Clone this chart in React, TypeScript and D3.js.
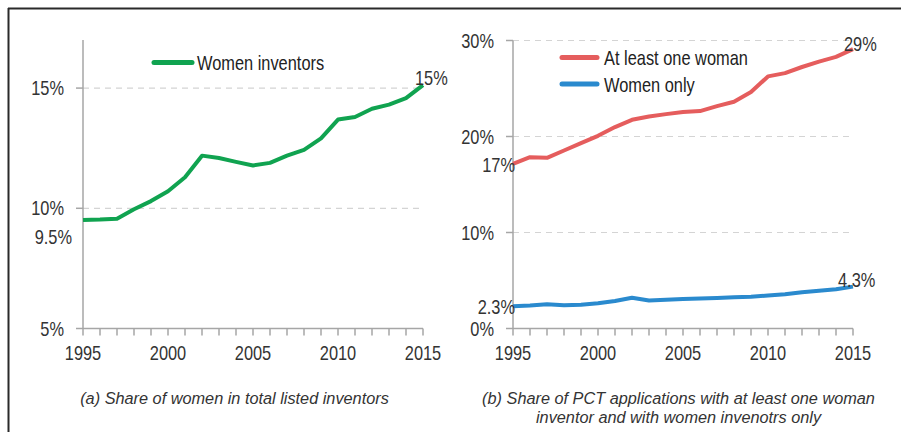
import React from "react";
import * as d3 from "d3";

const years = d3.range(1995, 2016);
const womenInventors = [9.51, 9.53, 9.57, 9.96, 10.3, 10.71, 11.29, 12.19, 12.09, 11.93, 11.78, 11.89, 12.19, 12.43, 12.91, 13.69, 13.8, 14.14, 14.31, 14.58, 15.12];
const atLeastOne = [17.15, 17.85, 17.78, 18.54, 19.31, 20.07, 20.98, 21.74, 22.09, 22.33, 22.55, 22.65, 23.17, 23.62, 24.63, 26.26, 26.6, 27.24, 27.8, 28.29, 29.1];
const womenOnly = [2.33, 2.4, 2.52, 2.42, 2.47, 2.62, 2.86, 3.2, 2.92, 2.99, 3.08, 3.13, 3.18, 3.26, 3.3, 3.43, 3.57, 3.78, 3.92, 4.08, 4.36];
const leftTicks = [5, 10, 15];
const rightTicks = [0, 10, 20, 30];
const xTickLabels = [1995, 2000, 2005, 2010, 2015];

const SANS = "'Liberation Sans', Arial, sans-serif";
const GREEN = "#10a350";
const RED = "#e55d5d";
const BLUE = "#2a8ace";
const AXIS = "#a6a6a6";
const GRID = "#d4d4d4";
const TXT = "#333333";

function NText({ x, y, anchor = "start", fill = TXT, children }: { x: number; y: number; anchor?: string; fill?: string; children: React.ReactNode }) {
  return (
    <text transform={`translate(${x},${y}) scale(0.82,1)`} x={0} y={0} textAnchor={anchor as any} fontFamily={SANS} fontSize={20} fill={fill}>
      {children}
    </text>
  );
}

type PanelProps = {
  x0: number;
  domain: [number, number];
  yTop: number;
  gridTicks: number[];
  labelTicks: number[];
  series: { values: number[]; color: string }[];
};

function Panel({ x0, domain, yTop, gridTicks, labelTicks, series }: PanelProps) {
  const x = d3.scaleLinear().domain([1995, 2015]).range([x0, x0 + 340]);
  const y = d3.scaleLinear().domain(domain).range([328.5, yTop]);
  const line = d3
    .line<number>()
    .x((_, i) => x(years[i]))
    .y((d) => y(d));
  return (
    <g>
      {gridTicks.map((t) => (
        <line key={"g" + t} x1={x0} x2={x(2015)} y1={y(t)} y2={y(t)} stroke={GRID} strokeWidth={1.2} strokeDasharray="6,5" />
      ))}
      <line x1={x0} x2={x0} y1={y(domain[1])} y2={y(domain[0])} stroke={AXIS} strokeWidth={1.5} />
      <line x1={x0} x2={x(2015)} y1={y(domain[0])} y2={y(domain[0])} stroke={AXIS} strokeWidth={1.5} />
      {labelTicks.map((t) => (
        <g key={"t" + t}>
          <line x1={x0 - 7} x2={x0} y1={y(t)} y2={y(t)} stroke={AXIS} strokeWidth={1.5} />
          <NText x={x0 - 19} y={y(t) + 7} anchor="end">
            {t}%
          </NText>
        </g>
      ))}
      {years.map((yr) => (
        <line key={"x" + yr} x1={x(yr)} x2={x(yr)} y1={y(domain[0])} y2={y(domain[0]) + 7} stroke={AXIS} strokeWidth={1.5} />
      ))}
      {xTickLabels.map((yr) => (
        <NText key={"xl" + yr} x={x(yr)} y={360} anchor="middle">
          {yr}
        </NText>
      ))}
      {series.map((s, i) => (
        <path key={"s" + i} d={line(s.values) || ""} fill="none" stroke={s.color} strokeWidth={4} strokeLinejoin="round" />
      ))}
    </g>
  );
}

export default function App() {
  const lx = d3.scaleLinear().domain([1995, 2015]).range([83, 423]);
  const ly = d3.scaleLinear().domain([5, 17]).range([328.5, 40]);
  const rx = d3.scaleLinear().domain([1995, 2015]).range([513, 853]);
  const ry = d3.scaleLinear().domain([0, 30]).range([328.5, 40.5]);
  const fmt = (v: number, d: number) => v.toFixed(d) + "%";
  return (
    <svg width={901} height={432} style={{ position: "absolute", left: 0, top: 0, background: "#fff" }}>
      <rect x={0} y={0} width={901} height={432} fill="#fff" />
      <line x1={8} x2={901} y1={8.5} y2={8.5} stroke="#2a2a2a" strokeWidth={2} />
      <line x1={8.5} x2={8.5} y1={8} y2={432} stroke="#2a2a2a" strokeWidth={2} />

      <Panel x0={83} domain={[5, 17]} yTop={40} gridTicks={[10, 15]} labelTicks={leftTicks} series={[{ values: womenInventors, color: GREEN }]} />
      <Panel x0={513} domain={[0, 30]} yTop={40.5} gridTicks={[10, 20, 30]} labelTicks={rightTicks} series={[{ values: atLeastOne, color: RED }, { values: womenOnly, color: BLUE }]} />

      {/* left legend */}
      <line x1={154} x2={192} y1={62.5} y2={62.5} stroke={GREEN} strokeWidth={5} strokeLinecap="round" />
      <NText x={197} y={70} fill="#222">Women inventors</NText>
      {/* right legend */}
      <line x1={562} x2={597} y1={57.5} y2={57.5} stroke={RED} strokeWidth={5} strokeLinecap="round" />
      <NText x={604} y={65} fill="#222">At least one woman</NText>
      <line x1={562} x2={597} y1={84} y2={84} stroke={BLUE} strokeWidth={5} strokeLinecap="round" />
      <NText x={604} y={91.5} fill="#222">Women only</NText>

      {/* data labels */}
      <NText x={lx(1995) - 11} y={ly(womenInventors[0]) + 24} anchor="end">
        {fmt(9.5, 1)}
      </NText>
      <NText x={lx(2015) - 8} y={ly(womenInventors[20]) + 0}>
        {fmt(15, 0)}
      </NText>
      <NText x={rx(1995) + 2} y={ry(atLeastOne[0]) + 8} anchor="end">
        {fmt(17, 0)}
      </NText>
      <NText x={rx(1995) + 2} y={ry(womenOnly[0]) + 7.5} anchor="end">
        {fmt(2.3, 1)}
      </NText>
      <NText x={rx(2015) - 9} y={ry(atLeastOne[20]) + 2}>
        {fmt(29, 0)}
      </NText>
      <NText x={rx(2015) - 15} y={ry(womenOnly[20]) + 0}>
        {fmt(4.3, 1)}
      </NText>

      {/* captions */}
      <text x={234.5} y={404} textAnchor="middle" fontFamily={SANS} fontStyle="italic" fontSize={16.3} fill="#333">
        (a) Share of women in total listed inventors
      </text>
      <text x={678.5} y={404} textAnchor="middle" fontFamily={SANS} fontStyle="italic" fontSize={16.3} fill="#333">
        (b) Share of PCT applications with at least one woman
      </text>
      <text x={678.5} y={423} textAnchor="middle" fontFamily={SANS} fontStyle="italic" fontSize={16.3} fill="#333">
        inventor and with women invenotrs only
      </text>
    </svg>
  );
}
